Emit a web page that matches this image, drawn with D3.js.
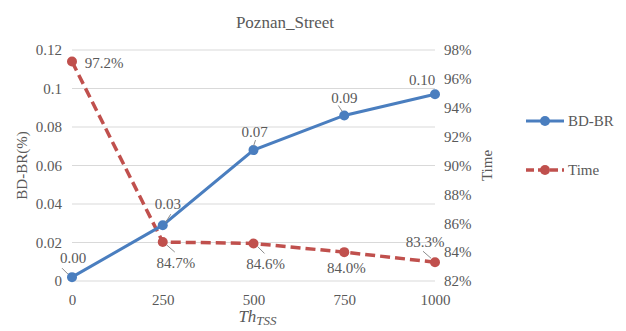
<!DOCTYPE html>
<html>
<head>
<meta charset="utf-8">
<script src="https://cdn.jsdelivr.net/npm/d3@7"></script>
<style>
  html, body { margin: 0; padding: 0; background: #fff; }
  svg { display: block; }
</style>
</head>
<body>
<svg id="chart" width="626" height="331"></svg>
<script>
// Threshold values and measured results
const thresholds = [0, 250, 500, 750, 1000];
const bdbr = [0.002, 0.029, 0.068, 0.086, 0.097];
const timeRatio = [0.972, 0.847, 0.846, 0.840, 0.833];
const leftTicks = [0, 0.02, 0.04, 0.06, 0.08, 0.1, 0.12];
const rightTicks = [0.82, 0.84, 0.86, 0.88, 0.90, 0.92, 0.94, 0.96, 0.98];

const FONT = "Liberation Serif";
const blue = "#4a7ebf";
const red = "#c0504d";
const textColor = "#595959";
const gridColor = "#d9d9d9";

const svg = d3.select("#chart").attr("font-family", FONT);
const margin = { left: 72, right: 191, top: 50, bottom: 50 };
const W = 626, H = 331;

const x = d3.scalePoint().domain(thresholds).range([margin.left, W - margin.right]);
const yL = d3.scaleLinear().domain([0, 0.12]).range([H - margin.bottom, margin.top]);
const yR = d3.scaleLinear().domain([0.82, 0.98]).range([H - margin.bottom, margin.top]);

// Title
svg.append("text")
  .attr("x", 285).attr("y", 28)
  .attr("text-anchor", "middle").attr("font-family", FONT)
  .attr("font-size", 17).attr("fill", textColor)
  .text("Poznan_Street");

// Gridlines
svg.append("g").selectAll("line").data(leftTicks).join("line")
  .attr("x1", margin.left).attr("x2", W - margin.right)
  .attr("y1", d => yL(d)).attr("y2", d => yL(d))
  .attr("stroke", gridColor).attr("stroke-width", 1.2);

// Left axis
const leftAxis = svg.append("g")
  .attr("transform", `translate(${margin.left - 10},0)`)
  .call(d3.axisLeft(yL).tickValues(leftTicks).tickSize(0).tickPadding(0)
    .tickFormat(d => d === 0 ? "0" : String(+d.toFixed(2))));
leftAxis.attr("font-family", FONT);
leftAxis.select(".domain").remove();
leftAxis.selectAll("text").attr("font-size", 15).attr("fill", textColor);

// Right axis
const rightAxis = svg.append("g")
  .attr("transform", `translate(${W - margin.right + 9},0)`)
  .call(d3.axisRight(yR).tickValues(rightTicks).tickSize(0).tickPadding(0)
    .tickFormat(d3.format(".0%")));
rightAxis.attr("font-family", FONT);
rightAxis.select(".domain").remove();
rightAxis.selectAll("text").attr("font-size", 15).attr("fill", textColor);

// Bottom axis
const bottomAxis = svg.append("g")
  .attr("transform", `translate(0,${H - margin.bottom + 10})`)
  .call(d3.axisBottom(x).tickSize(0).tickPadding(0));
bottomAxis.attr("font-family", FONT);
bottomAxis.select(".domain").remove();
bottomAxis.selectAll("text").attr("font-size", 15).attr("fill", textColor)
  .attr("dy", "0.9em");

// Axis titles
svg.append("text")
  .attr("transform", `translate(27,${(yL(0) + yL(0.12)) / 2}) rotate(-90)`)
  .attr("text-anchor", "middle").attr("font-size", 15).attr("fill", textColor)
  .attr("font-family", FONT)
  .text("BD-BR(%)");
svg.append("text")
  .attr("transform", `translate(492,${(yR(0.82) + yR(0.98)) / 2}) rotate(-90)`)
  .attr("text-anchor", "middle").attr("font-size", 15).attr("fill", textColor)
  .attr("font-family", FONT)
  .text("Time");
const xt = svg.append("text")
  .attr("x", (x(0) + x(1000)) / 2 + 4).attr("y", 322)
  .attr("text-anchor", "middle").attr("font-size", 17).attr("fill", textColor)
  .attr("font-style", "italic").attr("font-family", FONT);
xt.append("tspan").text("Th");
xt.append("tspan").attr("dy", 3).attr("font-size", 13).text("TSS");

// Series lines
const lineL = d3.line().x((d, i) => x(thresholds[i])).y(d => yL(d));
const lineR = d3.line().x((d, i) => x(thresholds[i])).y(d => yR(d));

svg.append("path").datum(timeRatio)
  .attr("d", lineR).attr("fill", "none")
  .attr("stroke", red).attr("stroke-width", 3.5)
  .attr("stroke-dasharray", "10,5");
svg.append("g").selectAll("circle").data(timeRatio).join("circle")
  .attr("cx", (d, i) => x(thresholds[i])).attr("cy", d => yR(d))
  .attr("r", 5).attr("fill", red);

svg.append("path").datum(bdbr)
  .attr("d", lineL).attr("fill", "none")
  .attr("stroke", blue).attr("stroke-width", 3);
svg.append("g").selectAll("circle").data(bdbr).join("circle")
  .attr("cx", (d, i) => x(thresholds[i])).attr("cy", d => yL(d))
  .attr("r", 5).attr("fill", blue);

// Data labels: offsets relative to each point, with short leader lines
const bdLabelOffsets = [[1, -19], [5, -21], [1, -18], [0, -18], [-13, -15]];
const tmLabelOffsets = [[32, 1], [13, 21], [12, 20], [2, 16], [-10, -20]];
const bdLeaders = [[[-4, -3], [-10, -9]], [[3, -3], [8, -11]], [[0, -4], [2, -10]], [[-2, -4], [-6, -10]], null];
const tmLeaders = [null, [[4, 3], [12, 10]], [[4, 3], [11, 10]], null, [[-4, -4], [-12, -11]]];

const labels = svg.append("g").attr("font-size", 15).attr("fill", textColor)
  .attr("font-family", FONT);
bdbr.forEach((v, i) => {
  const px = x(thresholds[i]), py = yL(v);
  const o = bdLabelOffsets[i];
  labels.append("text").attr("x", px + o[0]).attr("y", py + o[1])
    .attr("text-anchor", "middle").attr("dy", "0.35em")
    .text(d3.format(".2f")(v));
  if (bdLeaders[i]) {
    const l = bdLeaders[i];
    svg.append("line").attr("x1", px + l[0][0]).attr("y1", py + l[0][1])
      .attr("x2", px + l[1][0]).attr("y2", py + l[1][1])
      .attr("stroke", "#8c8c8c").attr("stroke-width", 1);
  }
});
timeRatio.forEach((v, i) => {
  const px = x(thresholds[i]), py = yR(v);
  const o = tmLabelOffsets[i];
  labels.append("text").attr("x", px + o[0]).attr("y", py + o[1])
    .attr("text-anchor", "middle").attr("dy", "0.35em")
    .text(d3.format(".1%")(v));
  if (tmLeaders[i]) {
    const l = tmLeaders[i];
    svg.append("line").attr("x1", px + l[0][0]).attr("y1", py + l[0][1])
      .attr("x2", px + l[1][0]).attr("y2", py + l[1][1])
      .attr("stroke", "#8c8c8c").attr("stroke-width", 1);
  }
});

// Legend
const legend = svg.append("g").attr("font-family", FONT);
const items = [
  { name: "BD-BR", color: blue, dash: null, y: 121 },
  { name: "Time", color: red, dash: "8,4", y: 170 }
];
items.forEach(it => {
  legend.append("line").attr("x1", 526).attr("x2", 564)
    .attr("y1", it.y).attr("y2", it.y)
    .attr("stroke", it.color).attr("stroke-width", it.dash ? 3.5 : 3)
    .attr("stroke-dasharray", it.dash);
  legend.append("circle").attr("cx", 545).attr("cy", it.y).attr("r", 5).attr("fill", it.color);
  legend.append("text").attr("x", 568).attr("y", it.y).attr("dy", "0.35em")
    .attr("font-size", 15).attr("fill", textColor).text(it.name);
});
</script>
</body>
</html>
